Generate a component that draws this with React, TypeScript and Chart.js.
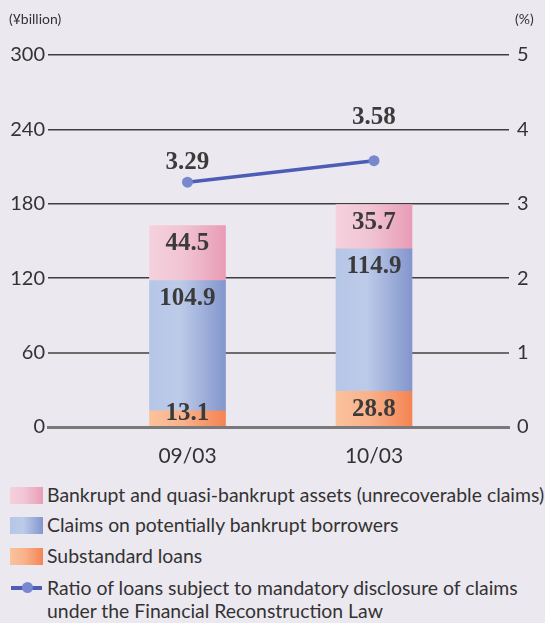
import React, { useEffect, useRef } from 'react';
import { Chart, registerables } from 'chart.js';

Chart.register(...registerables);

const categories = ['09/03', '10/03'];
const substandard = [13.1, 28.8];
const potentiallyBankrupt = [104.9, 114.9];
const bankrupt = [44.5, 35.7];
const ratio = [3.29, 3.58];

const seriesNames = [
  'Bankrupt and quasi-bankrupt assets (unrecoverable claims)',
  'Claims on potentially bankrupt borrowers',
  'Substandard loans',
  'Ratio of loans subject to mandatory disclosure of claims',
  'under the Financial Reconstruction Law',
];

const BG = '#ece8f0';
const TEXT = '#333333';
const LINE = '#4c5db5';
const BAR_W = 76;
const lineLabelLift = [20, 43];

const pinkStops: [number, string][] = [[0, '#f5d1dd'], [0.45, '#f1c4d3'], [1, '#e89cb5']];
const blueStops: [number, string][] = [[0, '#b6c6e7'], [0.4, '#bdcbe9'], [1, '#8396cd']];
const orangeStops: [number, string][] = [[0, '#fbc29c'], [0.45, '#f9b18a'], [1, '#f48453']];

function gradientFill(stops: [number, string][]) {
  return (ctx: any) => {
    const chart = ctx.chart;
    if (!chart.chartArea || ctx.type !== 'data') return stops[1][1];
    const cx = chart.scales.x.getPixelForValue(ctx.dataIndex);
    const g = chart.ctx.createLinearGradient(cx - BAR_W / 2, 0, cx + BAR_W / 2, 0);
    stops.forEach(([o, c]) => g.addColorStop(o, c));
    return g;
  };
}

const toPoints = (arr: number[]) => arr.map((v, i) => ({ x: i, y: v }));

const valueLabels = {
  id: 'valueLabels',
  afterDatasetsDraw(chart: any) {
    const c = chart.ctx;
    c.save();
    c.font = 'bold 25px "Liberation Serif", "DejaVu Serif", serif';
    c.fillStyle = '#3b3b3b';
    c.textAlign = 'center';
    c.textBaseline = 'middle';
    chart.data.datasets.forEach((ds: any, di: number) => {
      const meta = chart.getDatasetMeta(di);
      meta.data.forEach((el: any, i: number) => {
        const v = ds.data[i].y;
        if (meta.type === 'bar') {
          const y = Math.min(el.y + 18, el.base - 13);
          c.fillText(v.toFixed(1), el.x, y);
        } else {
          c.fillText(v.toFixed(2), el.x, el.y - lineLabelLift[i]);
        }
      });
    });
    c.restore();
  },
};

function ChartCanvas() {
  const ref = useRef<HTMLCanvasElement>(null);
  useEffect(() => {
    if (!ref.current) return;
    const tickFont = { family: 'Lato', size: 20 };
    const chart = new Chart(ref.current, {
      type: 'bar',
      data: {
        datasets: [
          {
            type: 'line',
            label: seriesNames[3],
            data: toPoints(ratio),
            yAxisID: 'y1',
            borderColor: LINE,
            borderWidth: 3.5,
            pointRadius: 5.5,
            pointBackgroundColor: '#7788cf',
            pointBorderWidth: 0,
            order: 0,
          } as any,
          {
            label: seriesNames[2],
            data: toPoints(substandard),
            backgroundColor: gradientFill(orangeStops),
            barThickness: BAR_W,
            order: 1,
          },
          {
            label: seriesNames[1],
            data: toPoints(potentiallyBankrupt),
            backgroundColor: gradientFill(blueStops),
            barThickness: BAR_W,
            order: 1,
          },
          {
            label: seriesNames[0],
            data: toPoints(bankrupt),
            backgroundColor: gradientFill(pinkStops),
            barThickness: BAR_W,
            order: 1,
          },
        ],
      },
      options: {
        animation: false,
        responsive: false,
        devicePixelRatio: 1,
        layout: { padding: { top: 55, left: 0, right: 0, bottom: 0 } },
        plugins: { legend: { display: false }, tooltip: { enabled: false } },
        scales: {
          x: {
            type: 'linear',
            min: -0.748,
            max: 1.724,
            offset: false,
            stacked: true,
            grid: { display: false, offset: false },
            border: { display: true, color: '#7a7a7a', width: 3, z: 1 },
            afterBuildTicks: (s: any) => {
              s.ticks = categories.map((_, i) => ({ value: i }));
            },
            afterFit: (s: any) => {
              s.height = 51;
            },
            ticks: {
              callback: (v: any) => categories[v] ?? '',
              font: { family: 'Lato', size: 21 },
              color: TEXT,
              padding: 9,
              autoSkip: false,
              maxRotation: 0,
            },
          },
          y: {
            stacked: true,
            min: 0,
            max: 300,
            position: 'left',
            border: { display: false },
            afterFit: (s: any) => {
              s.width = 48;
            },
            grid: {
              drawTicks: false,
              color: (ctx: any) =>
                ctx.tick.value === 0 ? 'rgba(0,0,0,0)' : ctx.tick.value === 60 ? '#6c6c6c' : '#3e3e3e',
              lineWidth: (ctx: any) => (ctx.tick.value === 60 ? 2 : 1.5),
            },
            ticks: { stepSize: 60, padding: 3, font: tickFont, color: TEXT },
          },
          y1: {
            min: 0,
            max: 5,
            position: 'right',
            border: { display: false },
            grid: { display: false, drawTicks: false },
            afterFit: (s: any) => {
              s.width = 36;
            },
            ticks: { stepSize: 1, padding: 8, font: tickFont, color: TEXT },
          },
        },
      } as any,
      plugins: [valueLabels],
    });
    return () => chart.destroy();
  }, []);
  return <canvas ref={ref} width={545} height={478} style={{ display: 'block' }} />;
}

const legendText: React.CSSProperties = {
  position: 'absolute',
  left: 47,
  fontFamily: 'Lato',
  fontSize: 19.4,
  color: TEXT,
  lineHeight: '30px',
  whiteSpace: 'nowrap',
};

function Box({ top, stops }: { top: number; stops: [number, string][] }) {
  return (
    <div
      style={{
        position: 'absolute',
        left: 10,
        top,
        width: 33,
        height: 17,
        background: `linear-gradient(to right, ${stops.map(([o, c]) => `${c} ${o * 100}%`).join(', ')})`,
      }}
    />
  );
}

export default function App() {
  return (
    <div
      style={{
        position: 'fixed',
        left: 0,
        top: 0,
        width: 545,
        height: 623,
        background: BG,
        overflow: 'hidden',
      }}
    >
      <ChartCanvas />
      <div style={{ position: 'absolute', left: 9, top: 10, fontFamily: 'Lato', fontSize: 14, color: TEXT }}>
        (¥billion)
      </div>
      <div style={{ position: 'absolute', left: 515, top: 10, fontFamily: 'Lato', fontSize: 14, color: TEXT }}>
        (%)
      </div>
      <Box top={487} stops={pinkStops} />
      <div style={{ ...legendText, top: 480 }}>{seriesNames[0]}</div>
      <Box top={517} stops={blueStops} />
      <div style={{ ...legendText, top: 510 }}>{seriesNames[1]}</div>
      <Box top={548} stops={orangeStops} />
      <div style={{ ...legendText, top: 541 }}>{seriesNames[2]}</div>
      <div style={{ position: 'absolute', left: 11, top: 586, width: 31, height: 3.5, background: LINE }} />
      <div
        style={{
          position: 'absolute',
          left: 21.5,
          top: 582,
          width: 11,
          height: 11,
          borderRadius: '50%',
          background: '#7788cf',
        }}
      />
      <div style={{ ...legendText, top: 573 }}>{seriesNames[3]}</div>
      <div style={{ ...legendText, top: 596 }}>{seriesNames[4]}</div>
    </div>
  );
}
